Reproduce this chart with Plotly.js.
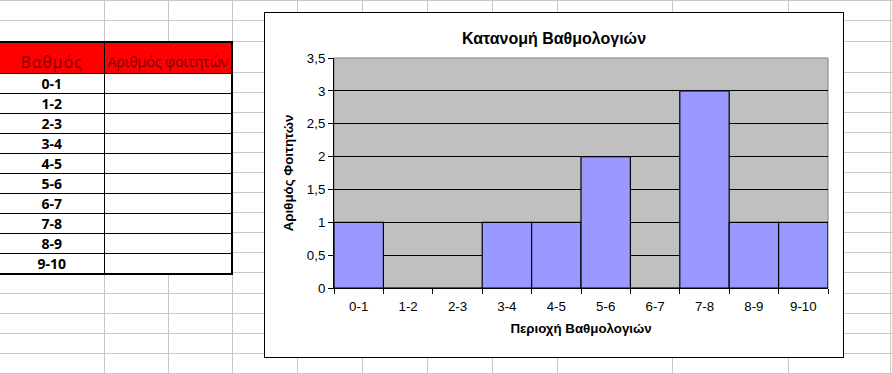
<!DOCTYPE html>
<html>
<head>
<meta charset="utf-8">
<script src="https://cdn.plot.ly/plotly-3.0.1.min.js"></script>
<style>
  html, body { margin: 0; padding: 0; background: #fff; width: 892px; height: 374px; overflow: hidden; position: relative; }
  .gv { position: absolute; top: 0; width: 1px; height: 374px; background: #c8c8c8; }
  .gh { position: absolute; left: 0; height: 1px; width: 892px; background: #c8c8c8; }
  #tbl { position: absolute; left: 0; top: 41px; border-collapse: collapse; font-family: "Open Sans", "Noto Sans", sans-serif; background: #fff; table-layout: fixed; }
  #tbl td { padding: 0; border: 1px solid #000; text-align: center; font-size: 14px; line-height: 19px; overflow: hidden; }
  #tbl th { padding: 0 0 2px 0; background: #ff0000; color: #7a0000; font-weight: normal; vertical-align: bottom; height: 28px; line-height: 18px; border: 1px solid #000; border-top: 2px solid #000; white-space: nowrap; overflow: hidden; }
  #tbl th.h1 { font-size: 15.5px; letter-spacing: 1.2px; }
  #tbl th.h2 { font-size: 14.5px; letter-spacing: -0.3px; }
  #chartbox { position: absolute; left: 264px; top: 12px; width: 578px; height: 344px; border: 1px solid #000; background: #fff; }
</style>
</head>
<body>
<div id="grid"></div>
<table id="tbl"></table>
<div id="chartbox"><div id="chart"></div></div>
<script>
// ---- data ----
const gradeRanges = ["0-1","1-2","2-3","3-4","4-5","5-6","6-7","7-8","8-9","9-10"];
const studentCounts = [1, 0, 0, 1, 1, 2, 0, 3, 1, 1];
const tableHeaders = ["Βαθμός", "Αριθμός φοιτητών"];
const chartTitle = "Κατανομή Βαθμολογιών";
const xTitle = "Περιοχή Βαθμολογιών";
const yTitle = "Αριθμός Φοιτητών";

// ---- spreadsheet background (decoration) ----
const colLines = [104, 168, 232, 297, 362, 427, 492, 557, 672, 788, 890];
const rowLines = [0, 20, 41, 72, 92, 112, 132, 152, 172, 192, 212, 232, 252, 272, 293, 313, 333, 353, 373];
const grid = document.getElementById('grid');
colLines.forEach(x => { const d = document.createElement('div'); d.className = 'gv'; d.style.left = x + 'px'; grid.appendChild(d); });
rowLines.forEach(y => { const d = document.createElement('div'); d.className = 'gh'; d.style.top = y + 'px'; grid.appendChild(d); });

// ---- table ----
const tbl = document.getElementById('tbl');
let html = '<colgroup><col style="width:104px"><col style="width:128px"></colgroup>';
html += '<tr><th class="h1" style="border-left:none">' + tableHeaders[0] + '</th><th class="h2" style="border-right:2px solid #000">' + tableHeaders[1] + '</th></tr>';
gradeRanges.forEach((g, i) => {
  const last = i === gradeRanges.length - 1;
  const bb = last ? 'border-bottom:2px solid #000;' : '';
  html += '<tr><td style="height:19px;font-weight:bold;border-left:none;' + bb + '">' + g + '</td><td style="border-right:2px solid #000;' + bb + '"></td></tr>';
});
tbl.innerHTML = html;

// ---- chart ----
const font = "Liberation Sans, Arial, sans-serif";
const trace = {
  type: 'bar',
  x: gradeRanges,
  y: studentCounts,
  marker: { color: '#9999ff', line: { color: '#000', width: 1.2 } },
  hoverinfo: 'x+y'
};
const layout = {
  width: 578, height: 344,
  margin: { l: 69, r: 15, t: 45, b: 69 },
  paper_bgcolor: '#fff',
  plot_bgcolor: '#c0c0c0',
  separators: ', ',
  bargap: 0,
  showlegend: false,
  font: { family: font, size: 13.3, color: '#000' },
  title: { text: chartTitle, font: { family: font, size: 16, color: '#000', weight: 'bold' }, x: 0.5, xref: 'container', y: 0.925, yref: 'container', yanchor: 'middle' },
  xaxis: {
    type: 'category',
    tickson: 'boundaries',
    ticks: 'outside', ticklen: 5, tickcolor: '#000', tickwidth: 1,
    ticklabelstandoff: 6,
    showline: true, linecolor: '#000', linewidth: 1,
    showgrid: false,
    tickfont: { family: font, size: 13.3, color: '#000' },
    title: { text: xTitle, font: { family: font, size: 13.3, color: '#000', weight: 'bold' }, standoff: 10 },
    automargin: false,
    fixedrange: true
  },
  yaxis: {
    range: [0, 3.5], dtick: 0.5, tick0: 0,
    ticks: 'outside', ticklen: 5, tickcolor: '#000', tickwidth: 1,
    showline: true, linecolor: '#000', linewidth: 1,
    showgrid: true, gridcolor: '#000', gridwidth: 1,
    zeroline: false,
    tickfont: { family: font, size: 13.3, color: '#000' },
    title: { text: yTitle, font: { family: font, size: 13.3, color: '#000', weight: 'bold' }, standoff: 10 },
    automargin: false,
    fixedrange: true
  },
  shapes: [{ type: 'rect', xref: 'paper', yref: 'paper', x0: 0, x1: 1, y0: 0, y1: 1, line: { color: '#808080', width: 1 }, layer: 'below' }]
};
Plotly.newPlot('chart', [trace], layout, { displayModeBar: false, staticPlot: true });
</script>
</body>
</html>
